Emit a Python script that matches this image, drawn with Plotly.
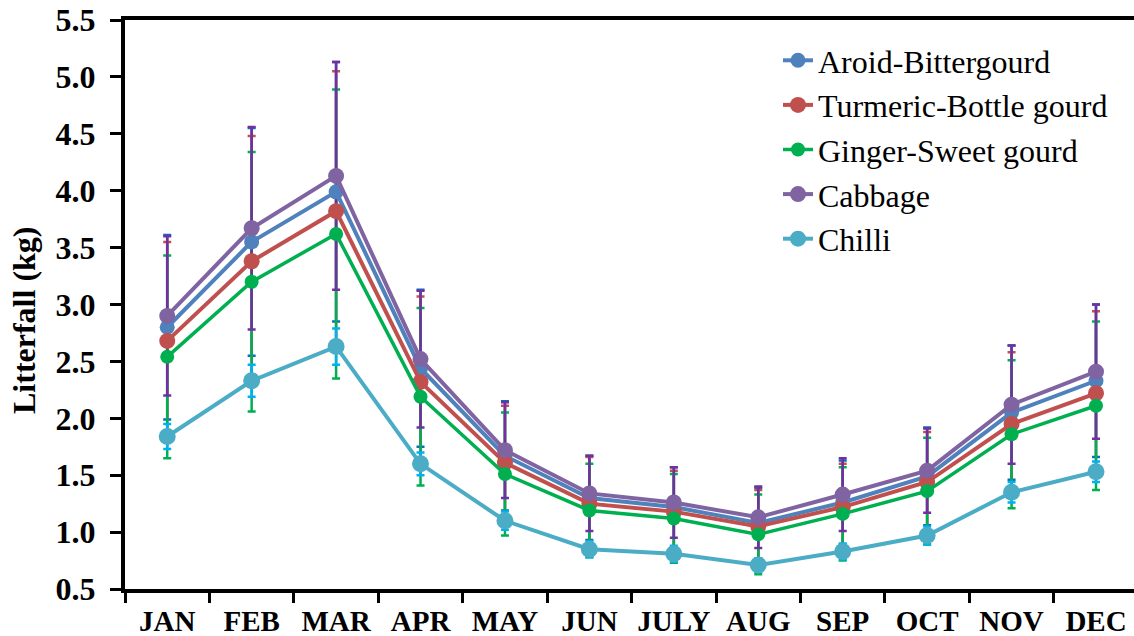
import plotly.graph_objects as go

# Monthly litterfall (kg) per cropping system, with standard deviations
months = ["JAN", "FEB", "MAR", "APR", "MAY", "JUN", "JULY", "AUG", "SEP", "OCT", "NOV", "DEC"]

aroid = [2.80, 3.55, 3.99, 2.44, 1.67, 1.30, 1.22, 1.08, 1.26, 1.49, 2.05, 2.33]
aroid_err = [0.81, 1.00, 1.14, 0.69, 0.48, 0.37, 0.35, 0.31, 0.37, 0.43, 0.59, 0.67]

turmeric = [2.68, 3.38, 3.82, 2.32, 1.61, 1.25, 1.18, 1.05, 1.22, 1.44, 1.95, 2.22]
turmeric_err = [0.87, 1.10, 1.23, 0.75, 0.50, 0.41, 0.36, 0.32, 0.38, 0.44, 0.63, 0.72]

ginger = [2.54, 3.20, 3.62, 2.19, 1.51, 1.19, 1.12, 0.98, 1.16, 1.36, 1.86, 2.11]
ginger_err = [0.89, 1.14, 1.27, 0.78, 0.54, 0.41, 0.39, 0.35, 0.41, 0.47, 0.65, 0.74]

cabbage = [2.90, 3.67, 4.13, 2.52, 1.72, 1.34, 1.26, 1.13, 1.33, 1.54, 2.12, 2.41]
cabbage_err = [0.70, 0.89, 1.00, 0.60, 0.42, 0.33, 0.31, 0.27, 0.32, 0.37, 0.52, 0.59]

chilli = [1.84, 2.33, 2.63, 1.60, 1.10, 0.85, 0.81, 0.71, 0.83, 0.97, 1.35, 1.53]
chilli_err = [0.11, 0.14, 0.16, 0.10, 0.08, 0.07, 0.07, 0.06, 0.07, 0.08, 0.09, 0.09]

series = [
    # name, values, errors, line colour, error colour, marker size, line width
    ("Aroid-Bittergourd", aroid, aroid_err, "#4F81BD", "#0070C0", 15, 4),
    ("Turmeric-Bottle gourd", turmeric, turmeric_err, "#C0504D", "#C0504D", 16, 4),
    ("Ginger-Sweet gourd", ginger, ginger_err, "#00B050", "#00B050", 14, 3.5),
    ("Cabbage", cabbage, cabbage_err, "#8064A2", "#7030A0", 16, 4),
    ("Chilli", chilli, chilli_err, "#4BACC6", "#00B0F0", 17, 4),
]

SERIF = "'Liberation Serif', 'Times New Roman', serif"

# plot-area geometry in pixels (used to place the legend and y title)
L, R, T, B = 125, 1134, 20, 589
PW, PH = R - L, B - T

fig = go.Figure()

# Error bars go underneath every line and marker; purple last so its stems sit on top
err_order = [0, 1, 2, 4, 3]
for i in err_order:
    name, vals, errs, col, ecol, msize, lw = series[i]
    fig.add_trace(go.Scatter(
        x=months, y=vals, mode="markers",
        marker=dict(size=2, color="rgba(0,0,0,0)"),
        error_y=dict(type="data", array=errs, visible=True,
                     color=ecol, thickness=2.5, width=4),
        showlegend=False, hoverinfo="skip",
    ))

for name, vals, errs, col, ecol, msize, lw in series:
    fig.add_trace(go.Scatter(
        x=months, y=vals, name=name, mode="lines+markers",
        line=dict(color=col, width=lw),
        marker=dict(color=col, size=msize, line=dict(width=0)),
    ))

fig.update_layout(
    width=1134, height=636, autosize=False,
    margin=dict(l=L, r=1134 - R, t=T, b=636 - B, autoexpand=False),
    paper_bgcolor="white", plot_bgcolor="white",
    font=dict(family=SERIF, color="black"),
    showlegend=True,
    legend=dict(
        x=(778 - L) / PW, y=(B - 33) / PH, xanchor="left", yanchor="top",
        font=dict(family=SERIF, size=32, color="black"),
        bgcolor="rgba(0,0,0,0)", borderwidth=0,
        tracegroupgap=0,
    ),
)

fig.update_xaxes(
    type="category", range=[-0.5, 11.45], tickangle=0,
    showline=True, linecolor="black", linewidth=4, mirror=True,
    ticks="outside", tickson="boundaries", ticklen=10, tickwidth=3, tickcolor="black",
    tickfont=dict(family=SERIF, size=29, color="black", weight="bold"),
    ticklabelstandoff=3,
    showgrid=False, zeroline=False, automargin=False,
)

fig.update_yaxes(
    range=[0.5, 5.5], dtick=0.5, tickformat=".1f",
    showline=True, linecolor="black", linewidth=4,
    ticks="outside", ticklen=11, tickwidth=3, tickcolor="black",
    tickfont=dict(family=SERIF, size=32, color="black", weight="bold"),
    ticklabelstandoff=8,
    showgrid=False, zeroline=False, automargin=False,
)

fig.add_annotation(
    text="<b>Litterfall (kg)</b>", textangle=-90,
    xref="paper", yref="paper",
    x=(24 - L) / PW, y=(B - 320) / PH,
    xanchor="center", yanchor="middle", showarrow=False,
    font=dict(family=SERIF, size=32, color="black"),
)

fig.write_html("out.html")
